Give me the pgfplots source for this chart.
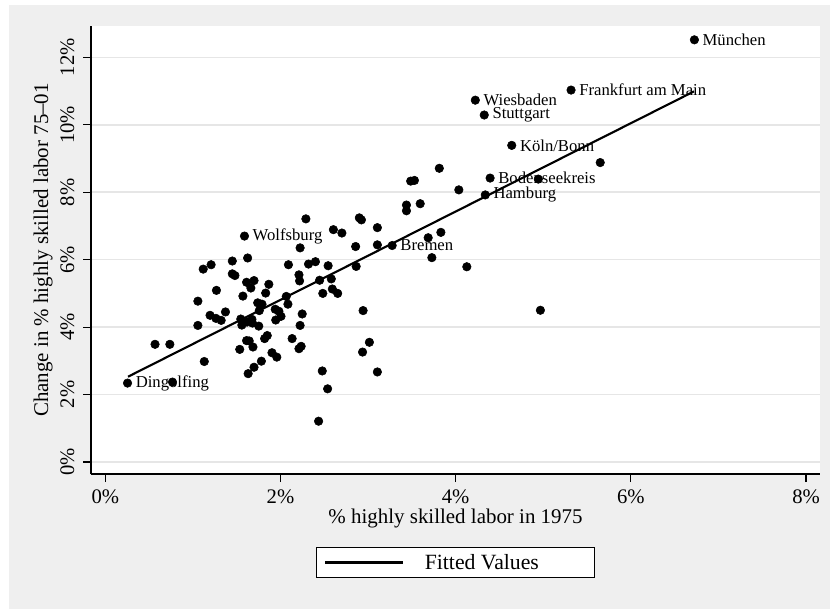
\documentclass[border=0pt]{standalone}
\usepackage{pgfplots}
\pgfplotsset{compat=1.18}
\usepackage{fontspec}
\setmainfont{Liberation Serif}
\definecolor{bgray}{RGB}{239,239,239}
\definecolor{gridc}{RGB}{230,230,230}
\begin{document}
\begin{tikzpicture}
\useasboundingbox (0,0) rectangle (622.5pt,457.5pt);
\fill[white] (0,0) rectangle (622.5pt,457.5pt);
\fill[bgray] (6.75pt,0.75pt) rectangle (622.5pt,453.75pt);
\begin{axis}[
  at={(68.25pt,102pt)}, anchor=south west,
  scale only axis, width=546.75pt, height=336pt,
  xmin=-0.163, xmax=8.159, ymin=-0.356, ymax=12.93,
  axis background/.style={fill=white},
  axis x line*=bottom, axis y line*=left,
  axis line style={line width=0.9pt, black, -},
  xtick={0,2,4,6,8}, xticklabels={0\%,2\%,4\%,6\%,8\%},
  ytick={0,2,4,6,8,10,12}, yticklabels={0\%,2\%,4\%,6\%,8\%,10\%,12\%},
  tick align=outside, major tick length=6pt,
  tick style={line width=0.9pt, black},
  ymajorgrids, grid style={line width=1.2pt, gridc},
  ticklabel style={font=\fontsize{15.5}{18}\selectfont},
  yticklabel style={rotate=90, anchor=south},
  yticklabel shift=3pt, xticklabel shift=2pt,
  xlabel={\% highly skilled labor in 1975},
  ylabel={Change in \% highly skilled labor 75--01},
  label style={font=\fontsize{15.7}{18}\selectfont},
  xlabel style={at={(axis description cs:0.5,-0.1004)}, anchor=center},
  ylabel style={at={(axis description cs:-0.0658,0.5)}, anchor=center, rotate=0},
  legend style={at={(axis description cs:0.5,-0.1975)}, anchor=center,
    draw=black, line width=0.6pt, fill=white, inner xsep=6pt, inner ysep=3pt,
    font=\fontsize{16.3}{19}\selectfont, column sep=13.5pt},
  legend image code/.code={\draw[line width=2pt, black] (0pt,0pt) -- (58pt,0pt);},
  clip=false,
]
\addplot[only marks, mark=*, mark size=3.2pt, black, forget plot] coordinates {
(5.650,8.88) (4.943,8.39) (3.813,8.71) (3.486,8.33) (3.529,8.35) (4.036,8.07)
(3.438,7.62) (3.438,7.45) (3.595,7.66) (2.290,7.21) (2.900,7.24) (2.924,7.18)
(3.106,6.95) (2.604,6.89) (2.701,6.79) (3.831,6.81) (3.686,6.65) (2.858,6.39)
(3.106,6.44) (2.224,6.35) (3.728,6.06) (1.625,6.05) (1.450,5.96) (2.399,5.94)
(2.320,5.87) (2.091,5.85) (1.208,5.85) (1.118,5.72) (2.544,5.82) (2.864,5.80)
(4.127,5.79) (1.450,5.58) (1.480,5.53) (2.211,5.55) (2.447,5.39) (2.580,5.43)
(2.218,5.37) (1.698,5.38) (1.613,5.33) (1.867,5.27) (1.662,5.16) (1.269,5.09)
(2.592,5.13) (2.653,5.00) (2.483,5.00) (1.831,5.01) (1.571,4.92) (2.066,4.91)
(2.085,4.68) (1.740,4.72) (1.789,4.68) (1.057,4.77) (1.758,4.49) (2.943,4.49)
(4.967,4.50) (1.940,4.53) (1.982,4.47) (1.372,4.45) (1.196,4.35) (1.263,4.26)
(1.323,4.20) (2.006,4.32) (1.946,4.21) (2.248,4.39) (1.674,4.23) (1.547,4.24)
(1.619,4.15) (1.680,4.12) (1.559,4.06) (1.752,4.03) (1.057,4.05) (2.224,4.05)
(1.849,3.75) (1.819,3.66) (2.133,3.66) (1.613,3.60) (1.643,3.59) (0.568,3.49)
(0.737,3.49) (3.015,3.55) (1.686,3.41) (2.236,3.43) (2.211,3.36) (1.535,3.34)
(1.903,3.24) (2.937,3.26) (1.958,3.11) (1.782,2.99) (1.130,2.98) (1.698,2.81)
(1.631,2.62) (2.477,2.70) (3.106,2.67) (2.538,2.17) (0.767,2.37) (2.435,1.21)
};
\addplot[only marks, mark=*, mark size=3.2pt, black, forget plot,
  point meta=explicit symbolic,
  nodes near coords={\pgfplotspointmeta},
  nodes near coords style={anchor=west, inner sep=0pt, xshift=6pt, text=black,
    font=\fontsize{12.5}{14}\selectfont}] coordinates {
(6.725,12.52) [München]
(5.317,11.03) [Frankfurt am Main]
(4.224,10.73) [Wiesbaden]
(4.326,10.29) [Stuttgart]
(4.640,9.39) [Köln/Bonn]
(4.393,8.42) [Bodenseekreis]
(4.338,7.92) [Hamburg]
(3.275,6.42) [Bremen]
(1.589,6.70) [Wolfsburg]
(0.254,2.34) [Dingolfing]
};
\addplot[black, line width=1.6pt, no marks] coordinates {(0.26,2.53) (6.72,10.99)};
\addlegendentry{Fitted Values\hspace*{34pt}}
\end{axis}
\end{tikzpicture}
\end{document}
